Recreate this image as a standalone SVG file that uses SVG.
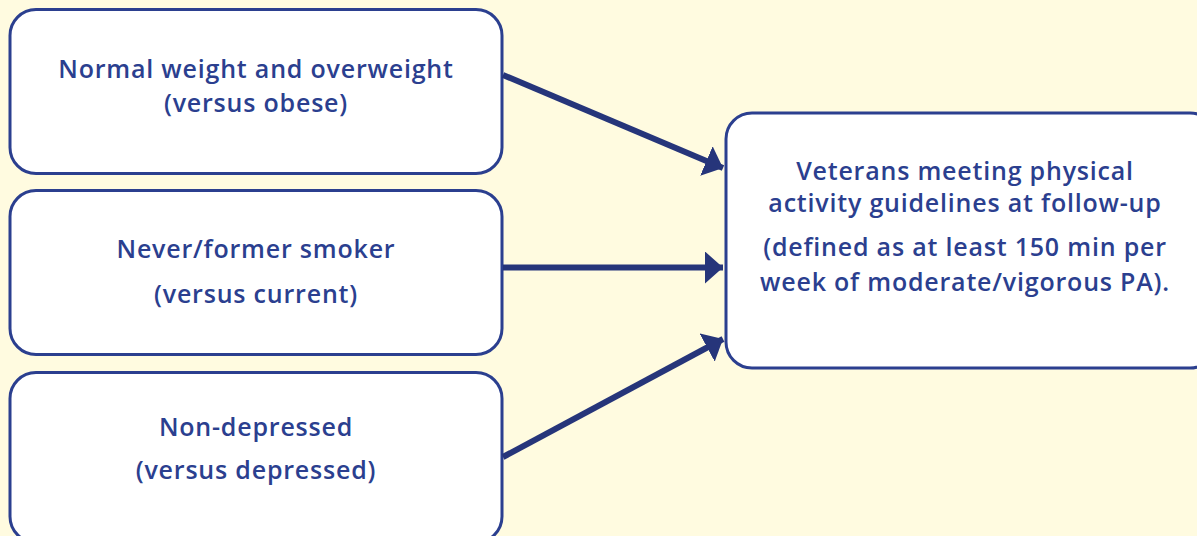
<svg xmlns="http://www.w3.org/2000/svg" width="1197" height="536" viewBox="0 0 1197 536">
<style>
.box{fill:#ffffff;stroke:#2b3f8f;stroke-width:3}
.t{font-family:"Open Sans","DejaVu Sans",sans-serif;font-weight:600;font-size:25px;letter-spacing:0.8px;fill:#2b3f8f;text-anchor:middle}
.c{stroke:#26357a;stroke-width:6;fill:none}
</style>
<defs>
<marker id="ah" markerUnits="userSpaceOnUse" markerWidth="20" markerHeight="32" refX="18" refY="16" orient="auto">
<path d="M0,0 L18,16 L0,32 Z" fill="#26357a"/>
</marker>
</defs>
<rect width="1197" height="536" fill="#fffbe0"/>
<g id="n1">
<rect class="box" x="10" y="9.5" width="492" height="164" rx="26"/>
<text class="t" x="256" y="78">Normal weight and overweight</text>
<text class="t" x="256" y="112">(versus obese)</text>
</g>
<g id="n2">
<rect class="box" x="10" y="190.5" width="492" height="164" rx="26"/>
<text class="t" x="256" y="258">Never/former smoker</text>
<text class="t" x="256" y="303">(versus current)</text>
</g>
<g id="n3">
<rect class="box" x="10" y="372.5" width="492" height="170" rx="26"/>
<text class="t" x="256" y="436">Non-depressed</text>
<text class="t" x="256" y="479">(versus depressed)</text>
</g>
<g id="n4">
<rect class="box" x="726" y="113" width="490" height="255" rx="26"/>
<text class="t" x="965" y="180">Veterans meeting physical</text>
<text class="t" x="965" y="212">activity guidelines at follow-up</text>
<text class="t" x="965" y="256">(defined as at least 150 min per</text>
<text class="t" x="965" y="291">week of moderate/vigorous PA).</text>
</g>
<g id="connectors">
<line class="c" x1="503" y1="75" x2="723" y2="168" marker-end="url(#ah)"/>
<line class="c" x1="503" y1="267.5" x2="723" y2="267.5" marker-end="url(#ah)"/>
<line class="c" x1="503" y1="457" x2="723" y2="339" marker-end="url(#ah)"/>
</g>
</svg>
